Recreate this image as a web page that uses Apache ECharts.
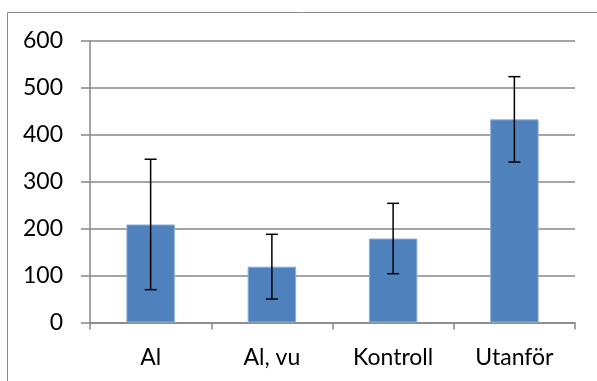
<!DOCTYPE html>
<html>
<head>
<meta charset="utf-8">
<script src="https://cdn.jsdelivr.net/npm/echarts@6/dist/echarts.min.js"></script>
<style>
  html, body { margin: 0; padding: 0; background: #fff; }
  #chart { width: 597px; height: 381px; }
</style>
</head>
<body>
<div id="chart"></div>
<script>
// Group names along the x axis
const categories = ['Al', 'Al, vu', 'Kontroll', 'Utanför'];
// Mean value per group
const means = [209, 119, 179, 433];
// Symmetric error (± value) per group
const errors = [139, 69, 75, 91];
// Y axis tick values
const yTicks = [0, 100, 200, 300, 400, 500, 600];

const font = 'Lato, "Open Sans", "Noto Sans", sans-serif';
const gridGray = '#878787';

const errorData = categories.map((c, i) => [i, means[i] - errors[i], means[i] + errors[i]]);

const chart = echarts.init(document.getElementById('chart'), null, { renderer: 'canvas' });

chart.setOption({
  animation: false,
  backgroundColor: '#ffffff',
  graphic: [{
    type: 'rect',
    shape: { x: 7.5, y: 12.5, width: 700, height: 500 },
    style: { fill: 'none', stroke: '#8a8a8a', lineWidth: 1 },
    silent: true,
    z: -1
  }],
  grid: { left: 90, right: 22, top: 41, bottom: 58.5 },
  xAxis: {
    type: 'category',
    data: categories,
    axisLine: { show: true, lineStyle: { color: gridGray, width: 1.5 } },
    axisTick: { show: true, length: 7, lineStyle: { color: gridGray, width: 1.5 } },
    axisLabel: { color: '#000', fontFamily: font, fontSize: 23, margin: 24 },
    splitLine: { show: false }
  },
  yAxis: {
    type: 'value',
    min: yTicks[0],
    max: yTicks[yTicks.length - 1],
    interval: 100,
    axisLine: { show: true, lineStyle: { color: gridGray, width: 1.5 } },
    axisTick: { show: true, length: 9, inside: false, lineStyle: { color: gridGray, width: 1.5 } },
    axisLabel: { color: '#000', fontFamily: font, fontSize: 23, margin: 27 },
    splitLine: { show: true, lineStyle: { color: gridGray, width: 1.5 } }
  },
  series: [
    {
      type: 'bar',
      data: means,
      barWidth: '40%',
      itemStyle: { color: '#4F81BD', borderColor: '#8fb0d9', borderWidth: 1 }
    },
    {
      type: 'custom',
      data: errorData,
      z: 10,
      renderItem: function (params, api) {
        const x = api.value(0);
        const lo = api.coord([x, api.value(1)]);
        const hi = api.coord([x, api.value(2)]);
        const half = 6;
        const style = { stroke: '#000', lineWidth: 1.5 };
        return {
          type: 'group',
          children: [
            { type: 'line', shape: { x1: hi[0], y1: hi[1], x2: lo[0], y2: lo[1] }, style },
            { type: 'line', shape: { x1: hi[0] - half, y1: hi[1], x2: hi[0] + half, y2: hi[1] }, style },
            { type: 'line', shape: { x1: lo[0] - half, y1: lo[1], x2: lo[0] + half, y2: lo[1] }, style }
          ]
        };
      }
    }
  ]
});
</script>
</body>
</html>
